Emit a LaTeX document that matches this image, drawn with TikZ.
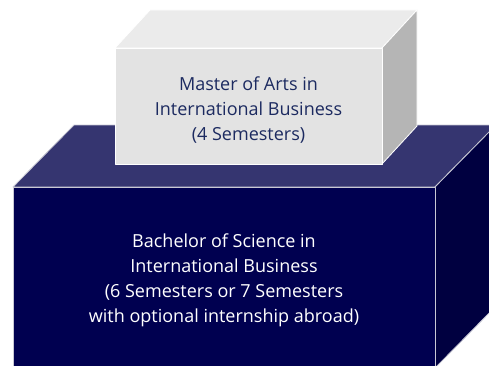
\documentclass[tikz,border=0pt]{standalone}
\usepackage{fontspec}
\setmainfont{Open Sans}
\usepackage{tikz}
\usetikzlibrary{positioning,calc}
\definecolor{bscfront}{HTML}{000050}
\definecolor{bsctop}{HTML}{353570}
\definecolor{bscside}{HTML}{000040}
\definecolor{mafront}{HTML}{E3E3E3}
\definecolor{matop}{HTML}{EBEBEB}
\definecolor{maside}{HTML}{B5B5B5}
\definecolor{matext}{HTML}{1C2A60}
\definecolor{edge}{HTML}{C8C8D4}
\tikzstyle{face} = [draw=edge, line width=0.8pt, line join=round]
\tikzstyle{boxlabel} = [text centered, align=center, %
   font=\fontsize{18}{25}\selectfont]

\begin{document}
\begin{tikzpicture}[x=1pt, y=1pt]
   \useasboundingbox (0,0) rectangle (489,365);

   % BACHELOR BLOCK %%%%%%%%%%%%%%%%%%%%%%%%%%%%%%%%%%%%%%%%%%%%%%%%%%
   \coordinate (bscfl) at (13,-3);
   \coordinate (bscfr) at (435,-3);
   \coordinate (bsctl) at (13,178);
   \coordinate (bsctr) at (435,178);
   \coordinate (bscdepth) at (61,62);

   \path [face, fill=bsctop] (bsctl) -- ($(bsctl)+(bscdepth)$)
      -- ($(bsctr)+(bscdepth)$) -- (bsctr) -- cycle;
   \path [face, fill=bscside] (bsctr) -- ($(bsctr)+(bscdepth)$)
      -- ($(bscfr)+(bscdepth)$) -- (bscfr) -- cycle;
   \path [face, fill=bscfront] (bscfl) rectangle (bsctr);

   % MASTER BLOCK %%%%%%%%%%%%%%%%%%%%%%%%%%%%%%%%%%%%%%%%%%%%%%%%%%%%
   \coordinate (mafl) at (115,201);
   \coordinate (mafr) at (382,201);
   \coordinate (matl) at (115,317);
   \coordinate (matr) at (382,317);
   \coordinate (madepth) at (35,38);

   \path [face, draw=white, fill=matop] (matl) -- ($(matl)+(madepth)$)
      -- ($(matr)+(madepth)$) -- (matr) -- cycle;
   \path [face, draw=white, fill=maside] (matr) -- ($(matr)+(madepth)$)
      -- ($(mafr)+(madepth)$) -- (mafr) -- cycle;
   \path [face, draw=white, fill=mafront] (mafl) rectangle (matr);

   % Labels
   \node [boxlabel, text=matext] (master) at ($(mafl)!0.5!(matr)+(0,-4)$)
      {Master of Arts in\\International Business\\(4 Semesters)};
   \node [boxlabel, text=white] (bachelor) at ($(bscfl)!0.5!(bsctr)+(0,-3)$)
      {Bachelor of Science in\\International Business\\(6 Semesters or 7 Semesters\\with optional internship abroad)};
\end{tikzpicture}
\end{document}
